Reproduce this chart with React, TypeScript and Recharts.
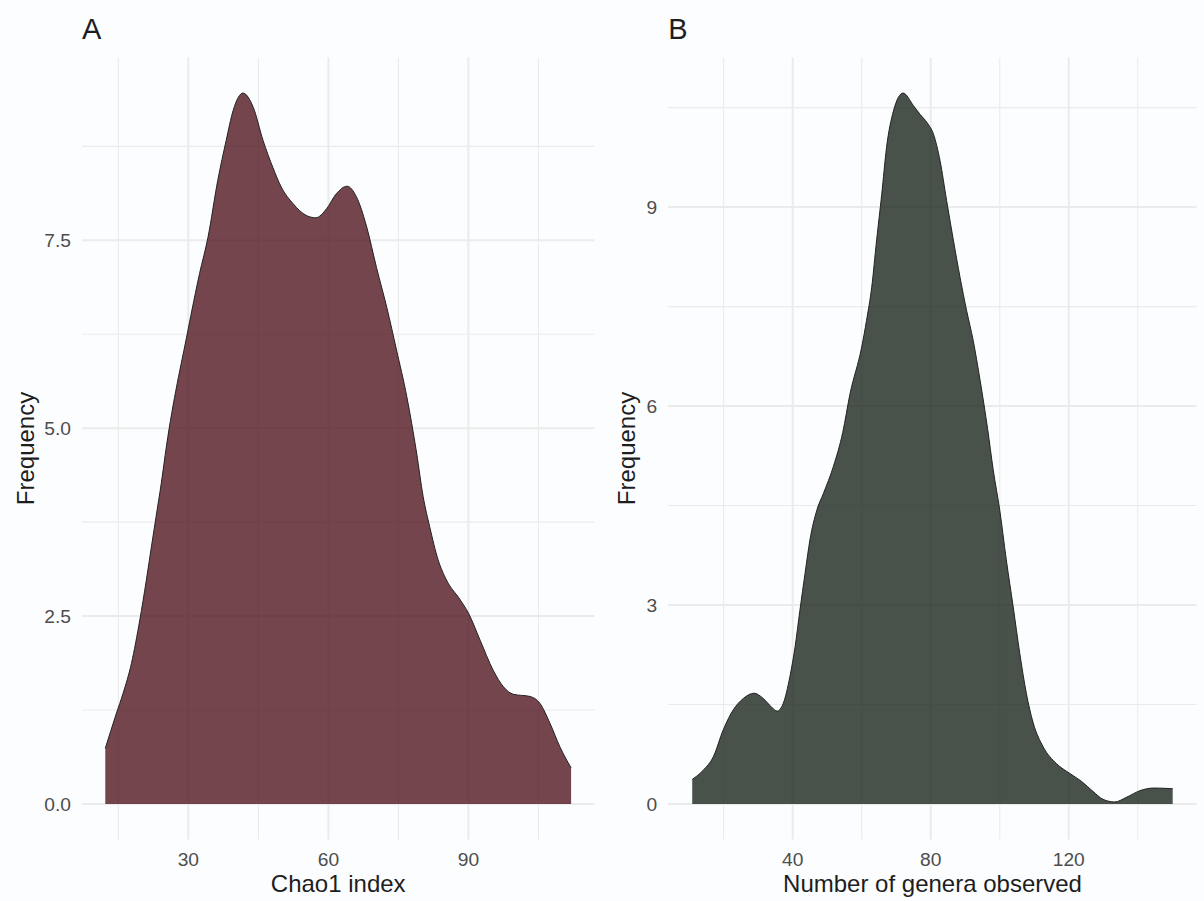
import React from 'react';
import { AreaChart, Area, XAxis, YAxis, CartesianGrid } from 'recharts';

// Panel A: Chao1 index density
const chaoX = [12.2, 14.6, 16.0, 17.8, 19.6, 21.0, 22.1, 23.1, 24.2, 25.3, 29.9, 32.4, 34.2, 36.3, 38.1, 39.6, 41.7, 43.9, 46.0, 48.1, 49.9, 52.4, 55.3, 57.3, 59.6, 61.7, 64.0, 66.0, 68.2, 70.3, 72.5, 74.6, 76.8, 78.9, 80.3, 81.7, 83.5, 85.3, 88.2, 90.0, 92.5, 95.3, 97.5, 99.6, 103.2, 105.3, 107.5, 109.6, 112.0];
const chaoY = [0.74, 1.21, 1.47, 1.87, 2.45, 2.98, 3.43, 3.83, 4.27, 4.76, 6.30, 7.06, 7.54, 8.30, 8.83, 9.23, 9.46, 9.27, 8.83, 8.47, 8.21, 7.99, 7.83, 7.80, 7.92, 8.12, 8.22, 8.08, 7.68, 7.14, 6.61, 6.04, 5.42, 4.67, 4.09, 3.69, 3.25, 2.98, 2.72, 2.54, 2.18, 1.78, 1.56, 1.46, 1.43, 1.34, 1.07, 0.76, 0.48];

// Panel B: number of genera observed density
const generaX = [10.9, 14.1, 17.0, 19.9, 22.8, 25.7, 28.8, 31.5, 33.9, 35.5, 37.3, 39.2, 40.7, 42.1, 43.6, 45.0, 47.0, 48.9, 51.8, 54.5, 56.6, 60.0, 61.4, 62.9, 64.3, 65.8, 67.2, 69.2, 72.0, 75.0, 76.9, 79.0, 80.8, 82.7, 84.6, 86.6, 88.5, 90.4, 92.3, 94.3, 96.5, 98.1, 100.0, 101.9, 103.9, 105.8, 107.7, 109.7, 112.6, 116.4, 120.3, 123.7, 127.0, 129.9, 133.3, 136.7, 140.6, 144.5, 150.1];
const generaY = [0.37, 0.51, 0.71, 1.12, 1.42, 1.59, 1.67, 1.59, 1.46, 1.40, 1.52, 1.92, 2.37, 2.92, 3.48, 3.98, 4.43, 4.68, 5.09, 5.60, 6.18, 6.89, 7.29, 7.79, 8.49, 9.19, 9.90, 10.45, 10.72, 10.53, 10.40, 10.27, 10.10, 9.70, 9.10, 8.49, 7.94, 7.44, 6.99, 6.39, 5.65, 5.04, 4.43, 3.68, 2.97, 2.27, 1.67, 1.22, 0.86, 0.61, 0.46, 0.34, 0.19, 0.07, 0.03, 0.10, 0.20, 0.24, 0.23];

// Ticks
const chaoXMajor = [30, 60, 90];
const chaoXMinor = [15, 45, 75, 105];
const chaoYMajor = [0, 2.5, 5, 7.5];
const chaoYMinor = [1.25, 3.75, 6.25, 8.75];
const generaXMajor = [40, 80, 120];
const generaXMinor = [20, 60, 100, 140];
const generaYMajor = [0, 3, 6, 9];
const generaYMinor = [1.5, 4.5, 7.5, 10.5];

// Domains (data range with 5% expansion)
const chaoXDomain: [number, number] = [7.21, 116.99];
const chaoYDomain: [number, number] = [-0.473, 9.933];
const generaXDomain: [number, number] = [3.94, 157.06];
const generaYDomain: [number, number] = [-0.536, 11.256];

const FONT = '"Liberation Sans", Arial, Helvetica, sans-serif';
const BG = '#fcfdfe';

type PanelProps = {
  xs: number[];
  ys: number[];
  xDomain: [number, number];
  yDomain: [number, number];
  xMajor: number[];
  xMinor: number[];
  yMajor: number[];
  yMinor: number[];
  fill: string;
  yFmt: (v: number) => string;
  margin: { top: number; right: number; bottom: number; left: number };
  yWidth: number;
};

function Panel(p: PanelProps) {
  const rows = p.xs.map((x, i) => ({ x, y: p.ys[i] }));
  const tickStyle = { fontSize: 19.2, fill: '#4d4d4d', fontFamily: FONT };
  return (
    <AreaChart width={602} height={901} data={rows} margin={p.margin}>
      <XAxis xAxisId="minor" dataKey="x" type="number" domain={p.xDomain} ticks={p.xMinor} allowDataOverflow hide />
      <YAxis yAxisId="minor" type="number" domain={p.yDomain} ticks={p.yMinor} allowDataOverflow hide />
      <XAxis
        xAxisId="major"
        dataKey="x"
        type="number"
        domain={p.xDomain}
        ticks={p.xMajor}
        allowDataOverflow
        axisLine={false}
        tickLine={false}
        tickMargin={6.7}
        height={40}
        tick={tickStyle}
        interval={0}
      />
      <YAxis
        yAxisId="major"
        type="number"
        domain={p.yDomain}
        ticks={p.yMajor}
        allowDataOverflow
        axisLine={false}
        tickLine={false}
        tickMargin={5}
        width={p.yWidth}
        tick={tickStyle}
        tickFormatter={p.yFmt}
        interval={0}
      />
      <CartesianGrid xAxisId="minor" yAxisId="minor" stroke="#ebebeb" strokeWidth={1.1} syncWithTicks />
      <CartesianGrid xAxisId="major" yAxisId="major" stroke="#ebebeb" strokeWidth={2} syncWithTicks />
      <Area
        xAxisId="major"
        yAxisId="major"
        type="monotone"
        dataKey="y"
        baseValue={0}
        stroke="#222222"
        strokeWidth={1}
        fill={p.fill}
        fillOpacity={0.8}
        dot={false}
        activeDot={false}
        isAnimationActive={false}
      />
    </AreaChart>
  );
}

export default function App() {
  const textColor = '#1e1e1e';
  return (
    <div style={{ position: 'absolute', left: 0, top: 0, width: 1204, height: 901, background: BG, overflow: 'hidden' }}>
      <div style={{ position: 'absolute', left: 0, top: 0 }}>
        <Panel
          xs={chaoX}
          ys={chaoY}
          xDomain={chaoXDomain}
          yDomain={chaoYDomain}
          xMajor={chaoXMajor}
          xMinor={chaoXMinor}
          yMajor={chaoYMajor}
          yMinor={chaoYMinor}
          fill="rgb(83,23,33)"
          yFmt={(v) => v.toFixed(1)}
          margin={{ top: 57.5, right: 7.6, bottom: 21.5, left: 42 }}
          yWidth={40}
        />
      </div>
      <div style={{ position: 'absolute', left: 602, top: 0 }}>
        <Panel
          xs={generaX}
          ys={generaY}
          xDomain={generaXDomain}
          yDomain={generaYDomain}
          xMajor={generaXMajor}
          xMinor={generaXMinor}
          yMajor={generaYMajor}
          yMinor={generaYMinor}
          fill="rgb(26,37,29)"
          yFmt={(v) => String(v)}
          margin={{ top: 57.5, right: 7.3, bottom: 21.5, left: 36.2 }}
          yWidth={30}
        />
      </div>
      <svg
        width={1204}
        height={901}
        style={{ position: 'absolute', left: 0, top: 0, pointerEvents: 'none' }}
        fontFamily={FONT}
      >
        <text x={82} y={39.3} fontSize={29} fill={textColor}>A</text>
        <text x={668.2} y={39.3} fontSize={29} fill={textColor}>B</text>
        <text x={338.2} y={892} fontSize={24} fill={textColor} textAnchor="middle">Chao1 index</text>
        <text x={932.5} y={892} fontSize={24} fill={textColor} textAnchor="middle">Number of genera observed</text>
        <text transform="translate(34,448.5) rotate(-90)" fontSize={24} fill={textColor} textAnchor="middle">Frequency</text>
        <text transform="translate(635,448.5) rotate(-90)" fontSize={24} fill={textColor} textAnchor="middle">Frequency</text>
      </svg>
    </div>
  );
}
